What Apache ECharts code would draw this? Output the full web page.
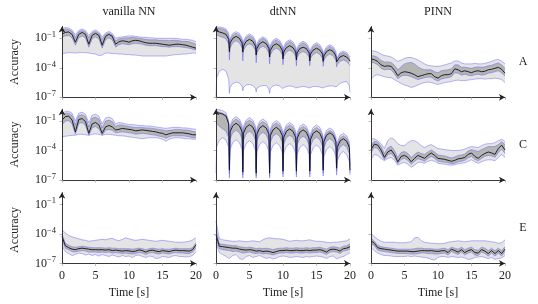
<!DOCTYPE html>
<html><head><meta charset="utf-8">
<script src="https://cdn.jsdelivr.net/npm/echarts@6/dist/echarts.min.js"></script>
<style>html,body{margin:0;padding:0;background:#fff}#c{width:538px;height:304px}</style>
</head><body><div id="c"></div>
<script>
// time grids [s]
const time = [0,0.5,1,1.5,2,2.5,3,3.5,4,4.5,5,5.5,6,6.5,7,7.5,8,8.5,9,9.5,10,10.5,11,11.5,12,12.5,13,13.5,14,14.5,15,15.5,16,16.5,17,17.5,18,18.5,19,19.5,20];
const timeArch = [0,0.1,0.5,1,1.5,1.9, 2,2.1,2.5,3,3.5,3.9, 4,4.1,4.5,5,5.5,5.9, 6,6.1,6.5,7,7.5,7.9, 8,8.1,8.5,9,9.5,9.9, 10,10.1,10.5,11,11.5,11.9, 12,12.1,12.5,13,13.5,13.9, 14,14.1,14.5,15,15.5,15.9, 16,16.1,16.5,17,17.5,17.9, 18,18.1,18.5,19,19.5,19.9, 20];
const xTicks = [0,5,10,15,20];
const yTicks = [1e-7,1e-4,1e-1];
const colTitles = ['vanilla NN','dtNN','PINN'];
const rowLabels = ['A','C','E'];
// all series below are log10(accuracy)
// ---- row A ----
const A_van_hi=[0.0,0.1,0.05,-0.15,-0.65,-0.2,-0.05,-0.2,-0.7,-0.3,-0.15,-0.35,-0.85,-0.45,-0.3,-0.5,-1.0,-0.9,-0.85,-0.8,-0.75,-0.75,-0.8,-0.85,-0.9,-0.9,-0.95,-0.95,-1.0,-1.0,-1.0,-1.0,-1.0,-1.0,-1.0,-1.05,-1.1,-1.1,-1.15,-1.2,-1.35];
const A_van_q3=[-0.15,-0.05,-0.1,-0.3,-0.9,-0.35,-0.2,-0.35,-0.95,-0.45,-0.3,-0.5,-1.1,-0.6,-0.45,-0.65,-1.25,-1.05,-1.0,-0.95,-0.95,-0.9,-0.95,-1.0,-1.05,-1.1,-1.15,-1.15,-1.15,-1.2,-1.2,-1.2,-1.25,-1.2,-1.2,-1.25,-1.3,-1.3,-1.35,-1.45,-1.6];
const A_van_med=[-0.55,-0.4,-0.35,-0.6,-1.4,-0.6,-0.4,-0.6,-1.6,-0.7,-0.5,-0.7,-1.7,-0.8,-0.6,-0.8,-1.6,-1.35,-1.25,-1.3,-1.4,-1.25,-1.2,-1.25,-1.35,-1.45,-1.5,-1.5,-1.5,-1.55,-1.6,-1.65,-1.7,-1.65,-1.6,-1.6,-1.65,-1.7,-1.8,-1.9,-2.0];
const A_van_q1=[-0.9,-0.75,-0.7,-0.95,-1.7,-0.95,-0.75,-0.95,-1.9,-1.05,-0.85,-1.05,-2.0,-1.15,-0.95,-1.15,-1.9,-1.65,-1.55,-1.6,-1.65,-1.55,-1.5,-1.55,-1.6,-1.7,-1.75,-1.75,-1.75,-1.8,-1.85,-1.85,-1.9,-1.85,-1.85,-1.85,-1.9,-1.95,-2.0,-2.1,-2.2];
const A_van_lo=[-2.55,-2.5,-2.45,-2.45,-2.5,-2.45,-2.45,-2.45,-2.5,-2.55,-2.6,-2.75,-2.7,-2.5,-2.5,-2.55,-2.55,-2.6,-2.6,-2.65,-2.65,-2.7,-2.7,-2.75,-2.8,-2.8,-2.8,-2.8,-2.8,-2.8,-2.8,-2.8,-2.75,-2.7,-2.65,-2.65,-2.6,-2.6,-2.55,-2.5,-2.5];

// dtNN panels use timeArch
const A_dt_hi=[0.15,0.15,0.15,0.1,-0.05,-0.5, -1.6,-1.0,-0.5,-0.32,-0.5,-1.0, -1.8,-1.25,-0.75,-0.55,-0.75,-1.25, -2.1,-1.55,-1.05,-0.85,-1.05,-1.55, -2.3,-1.7,-1.2,-1.0,-1.2,-1.7, -2.5,-1.85,-1.35,-1.15,-1.35,-1.85, -2.6,-2.0,-1.5,-1.3,-1.5,-2.0, -2.75,-2.15,-1.65,-1.45,-1.65,-2.15, -2.9,-2.35,-1.85,-1.65,-1.85,-2.35, -3.1,-2.9,-2.45,-2.3,-2.45,-2.8, -2.9];
const A_dt_q3=[0.0,0.0,0.0,-0.05,-0.2,-0.7, -1.9,-1.2,-0.7,-0.47,-0.7,-1.2, -2.1,-1.45,-0.95,-0.7,-0.95,-1.45, -2.4,-1.75,-1.25,-1.0,-1.25,-1.75, -2.6,-1.9,-1.4,-1.15,-1.4,-1.9, -2.8,-2.05,-1.55,-1.3,-1.55,-2.05, -2.9,-2.2,-1.7,-1.45,-1.7,-2.2, -3.05,-2.35,-1.85,-1.6,-1.85,-2.35, -3.2,-2.55,-2.05,-1.8,-2.05,-2.55, -3.35,-3.05,-2.6,-2.45,-2.6,-3.0, -3.15];
const A_dt_med=[-0.15,-0.2,-0.35,-0.45,-0.6,-1.1, -2.35,-1.5,-1.0,-0.8,-1.0,-1.5, -2.4,-1.8,-1.3,-1.1,-1.3,-1.8, -2.7,-2.05,-1.55,-1.35,-1.55,-2.05, -2.9,-2.25,-1.75,-1.55,-1.75,-2.25, -3.1,-2.4,-1.95,-1.75,-1.95,-2.4, -3.2,-2.5,-2.05,-1.9,-2.05,-2.5, -3.3,-2.6,-2.2,-2.0,-2.2,-2.6, -3.35,-2.8,-2.35,-2.15,-2.35,-2.8, -3.4,-3.2,-2.9,-2.75,-2.9,-3.2, -3.35];
const A_dt_q1=[-0.6,-0.65,-0.8,-0.9,-1.05,-1.6, -3.2,-2.0,-1.45,-1.25,-1.45,-2.0, -3.3,-2.25,-1.75,-1.55,-1.75,-2.25, -3.5,-2.5,-2.0,-1.8,-2.0,-2.5, -3.6,-2.7,-2.2,-2.0,-2.2,-2.7, -3.7,-2.85,-2.4,-2.2,-2.4,-2.85, -3.8,-2.95,-2.5,-2.35,-2.5,-2.95, -3.8,-3.05,-2.65,-2.45,-2.65,-3.05, -3.85,-3.25,-2.8,-2.6,-2.8,-3.25, -3.9,-3.65,-3.35,-3.2,-3.35,-3.65, -3.8];
const A_dt_lo=[-7.0,-5.0,-4.35,-4.15,-4.35,-5.2, -6.6,-6.0,-5.6,-5.45,-5.55,-5.9, -6.35,-6.0,-5.75,-5.7,-5.8,-6.1, -6.45,-6.1,-5.9,-5.8,-5.8,-6.2, -6.6,-6.1,-5.85,-5.75,-5.85,-6.1, -6.2,-6.0,-5.9,-5.85,-5.9,-6.05, -6.2,-6.05,-5.95,-5.9,-5.95,-6.05, -6.15,-6.0,-5.9,-5.9,-5.95,-6.05, -6.2,-6.0,-5.9,-5.85,-5.85,-5.95, -6.05,-5.85,-5.6,-5.45,-5.4,-5.8, -6.5];

const A_pinn_hi=[-2.25,-2.3,-2.4,-2.6,-2.75,-2.8,-2.9,-3.1,-3.35,-3.2,-3.05,-2.95,-2.95,-3.05,-3.2,-3.4,-3.6,-3.75,-3.8,-3.85,-3.85,-3.8,-3.7,-3.6,-3.5,-3.3,-3.3,-3.5,-3.6,-3.6,-3.6,-3.55,-3.6,-3.6,-3.55,-3.45,-3.35,-3.2,-3.15,-3.3,-3.6];
const A_pinn_q3=[-2.75,-2.8,-2.95,-3.25,-3.4,-3.4,-3.45,-3.75,-4.2,-3.9,-3.6,-3.5,-3.45,-3.6,-3.9,-4.1,-4.2,-4.2,-4.2,-4.4,-4.5,-4.3,-4.25,-4.2,-4.1,-3.7,-3.7,-3.95,-3.95,-4.0,-4.05,-3.95,-3.9,-3.95,-3.9,-3.8,-3.75,-3.6,-3.5,-3.7,-4.05];
const A_pinn_med=[-3.1,-3.17,-3.35,-3.7,-3.85,-3.8,-3.85,-4.25,-4.8,-4.5,-4.4,-4.45,-4.55,-4.7,-4.9,-4.8,-4.7,-4.6,-4.6,-4.9,-5.05,-4.8,-4.7,-4.7,-4.6,-4.1,-4.2,-4.4,-4.3,-4.4,-4.5,-4.35,-4.3,-4.4,-4.35,-4.2,-4.15,-4.05,-3.95,-4.15,-4.55];
const A_pinn_q1=[-3.45,-3.5,-3.7,-4.05,-4.2,-4.15,-4.2,-4.6,-5.1,-4.85,-4.75,-4.8,-4.9,-5.05,-5.2,-5.1,-5.0,-4.95,-4.95,-5.2,-5.35,-5.15,-5.05,-5.0,-4.9,-4.5,-4.55,-4.75,-4.65,-4.75,-4.8,-4.7,-4.65,-4.75,-4.7,-4.55,-4.5,-4.4,-4.3,-4.5,-4.85];
const A_pinn_lo=[-5.2,-4.8,-4.7,-4.8,-4.9,-5.0,-5.0,-5.2,-5.4,-5.6,-5.75,-5.85,-6.0,-5.9,-5.75,-5.6,-5.5,-5.45,-5.5,-5.6,-5.7,-5.6,-5.5,-5.45,-5.4,-5.3,-5.25,-5.3,-5.3,-5.25,-5.2,-5.15,-5.1,-5.1,-5.15,-5.1,-5.1,-5.05,-5.1,-5.2,-5.5];
// ---- row C ----
const C_van_hi=[-0.3,0.0,0.0,-0.2,-1.0,-0.2,-0.1,-0.3,-1.2,-0.4,-0.3,-0.5,-1.3,-0.7,-0.6,-0.75,-1.3,-1.15,-1.2,-1.3,-1.35,-1.35,-1.4,-1.45,-1.45,-1.5,-1.5,-1.55,-1.6,-1.65,-1.7,-1.75,-1.7,-1.65,-1.65,-1.65,-1.7,-1.7,-1.75,-1.8,-1.85];
const C_van_q3=[-0.5,-0.2,-0.2,-0.45,-1.4,-0.45,-0.35,-0.55,-1.6,-0.7,-0.6,-0.8,-1.7,-1.0,-0.9,-1.05,-1.55,-1.4,-1.4,-1.5,-1.55,-1.6,-1.65,-1.65,-1.65,-1.7,-1.7,-1.75,-1.8,-1.85,-1.9,-2.0,-1.95,-1.9,-1.85,-1.85,-1.9,-1.9,-1.95,-2.05,-2.1];
const C_van_med=[-0.9,-0.55,-0.5,-0.9,-2.1,-0.85,-0.75,-1.05,-2.25,-1.3,-1.15,-1.4,-2.25,-1.6,-1.45,-1.6,-1.9,-1.85,-1.75,-1.8,-1.85,-1.9,-2.0,-1.95,-1.9,-1.95,-2.0,-2.05,-2.1,-2.2,-2.25,-2.4,-2.3,-2.2,-2.2,-2.2,-2.2,-2.25,-2.3,-2.4,-2.4];
const C_van_q1=[-1.4,-1.0,-0.95,-1.3,-2.35,-1.25,-1.15,-1.45,-2.45,-1.7,-1.55,-1.8,-2.45,-1.95,-1.85,-1.95,-2.2,-2.15,-2.1,-2.15,-2.2,-2.25,-2.35,-2.3,-2.25,-2.3,-2.35,-2.4,-2.45,-2.55,-2.6,-2.75,-2.6,-2.5,-2.5,-2.5,-2.5,-2.55,-2.6,-2.7,-2.7];
const C_van_lo=[-2.6,-2.55,-2.5,-2.45,-2.45,-2.35,-2.35,-2.4,-2.45,-2.35,-2.3,-2.35,-2.45,-2.35,-2.35,-2.4,-2.45,-2.5,-2.5,-2.55,-2.6,-2.65,-2.7,-2.75,-2.8,-2.75,-2.7,-2.7,-2.7,-2.75,-2.85,-3.05,-2.85,-2.75,-2.7,-2.7,-2.75,-2.8,-2.8,-2.85,-2.85];

const C_dt_hi=[0.2,0.2,0.15,0.05,-0.15,-1.0, -5.5,-1.45,-0.8,-0.56,-0.8,-1.45, -5.7,-1.55,-0.9,-0.65,-0.9,-1.55, -5.8,-1.7,-1.05,-0.8,-1.05,-1.7, -5.8,-1.85,-1.2,-0.97,-1.2,-1.85, -5.6,-2.05,-1.4,-1.15,-1.4,-2.05, -5.6,-2.2,-1.55,-1.3,-1.55,-2.2, -5.6,-2.3,-1.65,-1.4,-1.65,-2.3, -5.5,-2.6,-1.95,-1.7,-1.95,-2.6, -5.3,-3.15,-2.5,-2.25,-2.5,-3.15, -5.5];
const C_dt_q3=[0.0,0.0,-0.1,-0.2,-0.4,-1.25, -5.7,-1.7,-1.05,-0.8,-1.05,-1.7, -5.9,-1.8,-1.15,-0.9,-1.15,-1.8, -6.0,-1.95,-1.3,-1.05,-1.3,-1.95, -6.0,-2.1,-1.45,-1.2,-1.45,-2.1, -5.8,-2.3,-1.65,-1.4,-1.65,-2.3, -5.8,-2.45,-1.8,-1.55,-1.8,-2.45, -5.8,-2.55,-1.9,-1.65,-1.9,-2.55, -5.7,-2.85,-2.2,-1.95,-2.2,-2.85, -5.5,-3.4,-2.75,-2.5,-2.75,-3.4, -5.7];
const C_dt_med=[-0.15,-0.15,-0.2,-0.3,-0.5,-1.3, -6.0,-2.1,-1.48,-1.23,-1.48,-2.1, -6.2,-2.25,-1.62,-1.37,-1.62,-2.25, -6.3,-2.35,-1.72,-1.47,-1.72,-2.35, -6.3,-2.5,-1.9,-1.64,-1.9,-2.5, -6.1,-2.7,-2.05,-1.8,-2.05,-2.7, -6.1,-2.8,-2.15,-1.9,-2.15,-2.8, -6.1,-2.9,-2.25,-2.0,-2.25,-2.9, -6.0,-3.1,-2.45,-2.2,-2.45,-3.1, -5.8,-3.7,-3.05,-2.8,-3.05,-3.7, -6.0];
const C_dt_q1=[-1.2,-1.3,-1.55,-1.8,-2.05,-2.7, -6.4,-2.85,-2.2,-1.95,-2.2,-2.85, -6.5,-2.95,-2.3,-2.05,-2.3,-2.95, -6.6,-3.05,-2.4,-2.15,-2.4,-3.05, -6.6,-3.2,-2.55,-2.3,-2.55,-3.2, -6.4,-3.35,-2.7,-2.45,-2.7,-3.35, -6.4,-3.45,-2.8,-2.55,-2.8,-3.45, -6.4,-3.55,-2.9,-2.65,-2.9,-3.55, -6.3,-3.7,-3.05,-2.8,-3.05,-3.7, -6.1,-4.3,-3.65,-3.4,-3.65,-4.3, -6.3];
const C_dt_lo=[-6.3,-3.6,-2.95,-2.7,-2.95,-3.7, -6.8,-3.9,-3.2,-2.9,-3.2,-3.9, -6.8,-4.0,-3.3,-3.0,-3.3,-4.0, -6.8,-4.1,-3.4,-3.1,-3.4,-4.1, -6.8,-4.2,-3.5,-3.2,-3.5,-4.2, -6.7,-4.3,-3.6,-3.3,-3.6,-4.3, -6.7,-4.4,-3.7,-3.4,-3.7,-4.4, -6.7,-4.45,-3.75,-3.45,-3.75,-4.45, -6.6,-4.6,-3.9,-3.6,-3.9,-4.6, -6.5,-5.1,-4.4,-4.1,-4.4,-5.1, -6.5];

const C_pinn_hi=[-2.8,-2.8,-3.0,-3.3,-3.8,-3.0,-2.7,-2.9,-3.3,-3.5,-3.5,-3.2,-3.0,-3.0,-3.2,-3.5,-3.7,-3.5,-3.4,-3.6,-3.8,-3.85,-3.9,-3.95,-4.0,-4.0,-4.0,-3.95,-3.85,-3.7,-3.6,-3.65,-3.7,-3.5,-3.35,-3.3,-3.3,-3.2,-3.0,-2.85,-3.1];
const C_pinn_q3=[-3.5,-3.05,-3.15,-3.6,-4.3,-3.75,-3.55,-4.0,-4.7,-4.2,-4.1,-4.3,-4.7,-4.4,-4.15,-4.3,-4.4,-4.15,-3.95,-4.15,-4.45,-4.5,-4.55,-4.65,-4.75,-4.65,-4.5,-4.45,-4.35,-4.05,-3.9,-4.0,-4.1,-3.9,-3.75,-3.6,-3.6,-3.6,-3.4,-3.1,-3.4];
const C_pinn_med=[-3.9,-3.35,-3.45,-3.95,-4.7,-4.15,-3.95,-4.4,-5.15,-4.6,-4.5,-4.7,-5.15,-4.8,-4.5,-4.65,-4.8,-4.5,-4.25,-4.5,-4.8,-4.85,-4.9,-5.0,-5.1,-5.0,-4.85,-4.8,-4.7,-4.4,-4.25,-4.6,-4.8,-4.5,-4.3,-4.15,-4.25,-4.4,-3.8,-3.45,-3.95];
const C_pinn_q1=[-4.2,-3.7,-3.8,-4.3,-4.95,-4.45,-4.3,-4.7,-5.35,-4.9,-4.8,-5.0,-5.4,-5.1,-4.85,-4.95,-5.1,-4.8,-4.6,-4.8,-5.1,-5.15,-5.2,-5.25,-5.35,-5.3,-5.15,-5.1,-5.0,-4.75,-4.6,-4.9,-5.05,-4.8,-4.6,-4.5,-4.55,-4.7,-4.2,-3.85,-4.3];
const C_pinn_lo=[-4.9,-4.4,-4.5,-4.8,-5.05,-4.8,-4.7,-5.0,-5.5,-5.3,-5.2,-5.4,-5.7,-5.5,-5.2,-5.2,-5.3,-5.1,-5.0,-5.1,-5.3,-5.35,-5.4,-5.45,-5.5,-5.45,-5.35,-5.3,-5.25,-5.1,-4.95,-5.15,-5.3,-5.15,-5.0,-4.95,-4.95,-5.05,-4.7,-4.4,-4.7];
// ---- row E ----
const E_van_hi=[-3.6,-3.9,-4.15,-4.3,-4.4,-4.5,-4.6,-4.65,-4.75,-4.7,-4.65,-4.6,-4.55,-4.6,-4.5,-4.45,-4.6,-4.7,-4.55,-4.4,-4.5,-4.6,-4.65,-4.6,-4.55,-4.6,-4.65,-4.7,-4.75,-4.7,-4.65,-4.7,-4.75,-4.8,-4.85,-4.85,-4.85,-4.8,-4.75,-4.6,-4.4];
const E_van_q3=[-4.0,-4.95,-5.15,-5.3,-5.35,-5.3,-5.25,-5.3,-5.35,-5.4,-5.4,-5.4,-5.4,-5.45,-5.4,-5.45,-5.45,-5.5,-5.5,-5.5,-5.5,-5.55,-5.5,-5.45,-5.5,-5.6,-5.5,-5.45,-5.5,-5.55,-5.5,-5.55,-5.55,-5.5,-5.45,-5.5,-5.5,-5.5,-5.5,-5.4,-4.9];
const E_van_med=[-4.25,-5.2,-5.4,-5.55,-5.6,-5.5,-5.45,-5.5,-5.55,-5.6,-5.6,-5.62,-5.6,-5.65,-5.6,-5.7,-5.65,-5.7,-5.75,-5.7,-5.72,-5.8,-5.75,-5.62,-5.7,-5.85,-5.7,-5.65,-5.75,-5.8,-5.7,-5.75,-5.8,-5.7,-5.65,-5.7,-5.7,-5.72,-5.75,-5.6,-5.1];
const E_van_q1=[-4.6,-5.45,-5.6,-5.8,-5.85,-5.75,-5.7,-5.75,-5.85,-5.85,-5.85,-5.9,-5.85,-5.9,-5.85,-5.95,-5.9,-5.95,-6.0,-5.95,-6.0,-6.05,-6.0,-5.9,-5.95,-6.1,-5.95,-5.9,-6.0,-6.05,-5.95,-6.0,-6.05,-5.95,-5.9,-5.95,-5.95,-6.0,-6.0,-5.85,-5.4];
const E_van_lo=[-5.2,-5.8,-6.0,-6.2,-6.1,-5.95,-6.0,-6.15,-6.05,-6.2,-6.1,-6.25,-6.1,-6.2,-6.3,-6.15,-6.25,-6.35,-6.2,-6.3,-6.25,-6.4,-6.2,-6.15,-6.3,-6.4,-6.25,-6.3,-6.5,-6.45,-6.3,-6.35,-6.4,-6.25,-6.2,-6.3,-6.3,-6.35,-6.3,-6.2,-5.8];

const E_dt_hi=[-2.7,-4.5,-4.6,-4.65,-4.7,-4.75,-4.75,-4.7,-4.75,-4.8,-4.75,-4.7,-4.75,-4.8,-4.6,-4.45,-4.4,-4.45,-4.5,-4.5,-4.55,-4.65,-4.75,-4.7,-4.65,-4.7,-4.7,-4.65,-4.6,-4.7,-4.75,-4.75,-4.8,-4.85,-4.9,-4.85,-4.85,-4.8,-4.75,-4.7,-4.5];
const E_dt_q3=[-3.6,-5.0,-5.05,-5.1,-5.15,-5.2,-5.2,-5.3,-5.35,-5.4,-5.35,-5.4,-5.5,-5.45,-5.5,-5.45,-5.5,-5.6,-5.5,-5.45,-5.45,-5.4,-5.45,-5.45,-5.4,-5.45,-5.45,-5.4,-5.45,-5.4,-5.4,-5.35,-5.45,-5.55,-5.35,-5.3,-5.35,-5.45,-5.25,-5.2,-5.0];
const E_dt_med=[-4.1,-5.25,-5.3,-5.35,-5.4,-5.45,-5.45,-5.55,-5.6,-5.65,-5.6,-5.65,-5.75,-5.7,-5.8,-5.75,-5.8,-5.9,-5.8,-5.7,-5.7,-5.65,-5.7,-5.7,-5.65,-5.7,-5.7,-5.65,-5.7,-5.65,-5.65,-5.6,-5.7,-5.85,-5.6,-5.55,-5.6,-5.75,-5.5,-5.45,-5.3];
const E_dt_q1=[-4.5,-5.5,-5.6,-5.65,-5.7,-5.8,-5.75,-5.85,-5.95,-5.9,-5.85,-5.95,-6.0,-5.95,-6.05,-6.0,-6.05,-6.15,-6.05,-5.95,-5.95,-5.9,-5.95,-5.95,-5.9,-5.95,-5.95,-5.9,-5.95,-5.9,-5.9,-5.85,-5.95,-6.1,-5.85,-5.8,-5.85,-6.0,-5.75,-5.7,-5.55];
const E_dt_lo=[-4.9,-5.9,-6.1,-6.3,-6.5,-6.2,-6.1,-6.5,-6.6,-6.3,-6.2,-6.4,-6.3,-6.2,-6.35,-6.5,-6.4,-6.55,-6.45,-6.3,-6.25,-6.3,-6.4,-6.35,-6.3,-6.35,-6.4,-6.3,-6.35,-6.3,-6.25,-6.3,-6.35,-6.5,-6.3,-6.25,-6.55,-6.4,-6.3,-6.1,-5.9];

const E_pinn_hi=[-3.9,-4.3,-4.55,-4.75,-4.85,-4.85,-4.85,-4.85,-4.9,-4.9,-4.9,-4.85,-4.8,-4.4,-4.35,-4.7,-4.85,-4.9,-4.95,-4.95,-5.0,-5.0,-4.95,-4.85,-4.8,-4.75,-4.7,-4.75,-4.8,-4.75,-4.7,-4.7,-4.7,-4.7,-4.7,-4.75,-4.8,-4.85,-4.95,-4.9,-4.6];
const E_pinn_q3=[-4.4,-4.75,-5.15,-5.3,-5.35,-5.4,-5.45,-5.5,-5.55,-5.55,-5.55,-5.55,-5.55,-5.5,-5.45,-5.45,-5.5,-5.5,-5.5,-5.55,-5.55,-5.5,-5.45,-5.6,-5.35,-5.45,-5.55,-5.35,-5.6,-5.45,-5.35,-5.6,-5.65,-5.35,-5.45,-5.7,-5.45,-5.7,-5.45,-5.7,-5.3];
const E_pinn_med=[-4.7,-4.95,-5.4,-5.5,-5.55,-5.6,-5.65,-5.7,-5.75,-5.75,-5.75,-5.75,-5.8,-5.8,-5.75,-5.7,-5.7,-5.72,-5.7,-5.75,-5.78,-5.72,-5.7,-5.9,-5.55,-5.7,-5.85,-5.6,-5.9,-5.7,-5.6,-5.9,-5.95,-5.6,-5.75,-6.0,-5.7,-6.0,-5.7,-6.0,-5.55];
const E_pinn_q1=[-5.0,-5.2,-5.65,-5.75,-5.8,-5.85,-5.9,-5.95,-6.0,-6.0,-6.0,-6.0,-6.05,-6.05,-6.0,-5.95,-5.95,-6.0,-6.0,-6.05,-6.05,-6.0,-5.95,-6.15,-5.8,-5.95,-6.1,-5.85,-6.15,-5.95,-5.85,-6.15,-6.2,-5.85,-6.0,-6.25,-5.95,-6.25,-5.95,-6.25,-5.8];
const E_pinn_lo=[-5.4,-5.7,-5.95,-6.1,-6.2,-6.2,-6.25,-6.3,-6.3,-6.3,-6.3,-6.25,-6.3,-6.25,-6.3,-6.35,-6.4,-6.45,-6.6,-6.65,-6.4,-6.3,-6.3,-6.4,-6.3,-6.35,-6.4,-6.35,-6.45,-6.6,-6.55,-6.4,-6.35,-6.3,-6.4,-6.5,-6.4,-6.6,-6.5,-6.45,-6.2];

const panels = [
  {row:0,col:0,t:time,hi:A_van_hi,q3:A_van_q3,med:A_van_med,q1:A_van_q1,lo:A_van_lo},
  {row:0,col:1,t:timeArch,hi:A_dt_hi,q3:A_dt_q3,med:A_dt_med,q1:A_dt_q1,lo:A_dt_lo},
  {row:0,col:2,t:time,hi:A_pinn_hi,q3:A_pinn_q3,med:A_pinn_med,q1:A_pinn_q1,lo:A_pinn_lo},
  {row:1,col:0,t:time,hi:C_van_hi,q3:C_van_q3,med:C_van_med,q1:C_van_q1,lo:C_van_lo},
  {row:1,col:1,t:timeArch,hi:C_dt_hi,q3:C_dt_q3,med:C_dt_med,q1:C_dt_q1,lo:C_dt_lo},
  {row:1,col:2,t:time,hi:C_pinn_hi,q3:C_pinn_q3,med:C_pinn_med,q1:C_pinn_q1,lo:C_pinn_lo},
  {row:2,col:0,t:time,hi:E_van_hi,q3:E_van_q3,med:E_van_med,q1:E_van_q1,lo:E_van_lo},
  {row:2,col:1,t:time,hi:E_dt_hi,q3:E_dt_q3,med:E_dt_med,q1:E_dt_q1,lo:E_dt_lo},
  {row:2,col:2,t:time,hi:E_pinn_hi,q3:E_pinn_q3,med:E_pinn_med,q1:E_pinn_q1,lo:E_pinn_lo}
];

const FONT = '"Liberation Serif","DejaVu Serif",serif';
const colLeft = [62, 216, 371];
const gridW = 134;
const rowTop = [26.5, 109.2, 192.6];
const gridH = 70.8;
const BLUE = 'rgba(85,85,255,0.55)';
const LIGHT = '#e4e4e4';
const DARK = '#b5b5b5';

const toPts = (t, arr) => t.map((x, i) => [x, Math.pow(10, arr[i])]);

const grids = [], xAxes = [], yAxes = [], series = [];
panels.forEach((p, i) => {
  grids.push({left: colLeft[p.col], top: rowTop[p.row], width: gridW, height: gridH});
  xAxes.push({
    type: 'value', gridIndex: i, min: 0, max: 20, interval: 5, z: 5,
    axisLine: {show: true, onZero: false, lineStyle: {color: '#222', width: 0.9}, symbol: ['none', 'arrow'], symbolSize: [5, 6]},
    axisTick: {show: true, length: 2.5, lineStyle: {color: '#aaa', width: 0.8}},
    axisLabel: {show: p.row === 2, fontFamily: FONT, fontSize: 12, color: '#222', margin: 6},
    splitLine: {show: false}
  });
  yAxes.push({
    type: 'log', logBase: 10, gridIndex: i, min: 1e-7, max: 1.6, z: 5,
    axisLine: {show: true, onZero: false, lineStyle: {color: '#222', width: 0.9}, symbol: ['none', 'arrow'], symbolSize: [5, 6]},
    axisTick: {show: true, length: 2.5, customValues: yTicks, lineStyle: {color: '#aaa', width: 0.8}},
    axisLabel: {
      show: p.col === 0, customValues: yTicks, margin: 6,
      formatter: v => '{b|10}{s|−' + Math.abs(Math.round(Math.log10(v))) + '}',
      rich: {
        b: {fontFamily: FONT, fontSize: 12, color: '#222', lineHeight: 16},
        s: {fontFamily: FONT, fontSize: 8.5, color: '#222', verticalAlign: 'top', lineHeight: 9}
      }
    },
    splitLine: {show: false}
  });
  const band = (arr, fill) => ({
    type: 'line', xAxisIndex: i, yAxisIndex: i, data: toPts(p.t, arr), symbol: 'none', silent: true,
    lineStyle: {color: BLUE, width: 0.8}, areaStyle: {color: fill, opacity: 1, origin: 'start'}
  });
  series.push(band(p.hi, LIGHT), band(p.q3, DARK), band(p.q1, LIGHT), band(p.lo, '#ffffff'));
  series.push({type: 'line', xAxisIndex: i, yAxisIndex: i, data: toPts(p.t, p.med), symbol: 'none', silent: true,
    lineStyle: {color: '#111', width: 0.9}});
});

const graphic = [];
const TF = '12px ' + FONT;
colTitles.forEach((t, c) => graphic.push({type: 'text', x: colLeft[c] + gridW / 2, y: 12,
  style: {text: t, font: TF, fill: '#222', textAlign: 'center', textVerticalAlign: 'middle'}}));
colTitles.forEach((t, c) => graphic.push({type: 'text', x: colLeft[c] + gridW / 2, y: 293,
  style: {text: 'Time [s]', font: TF, fill: '#222', textAlign: 'center', textVerticalAlign: 'middle'}}));
rowLabels.forEach((t, r) => {
  const cy = rowTop[r] + gridH / 2;
  graphic.push({type: 'text', x: 523, y: cy, style: {text: t, font: TF, fill: '#222', textAlign: 'center', textVerticalAlign: 'middle'}});
  graphic.push({type: 'text', x: 15, y: cy + (r === 2 ? 2 : 0), rotation: Math.PI / 2,
    style: {text: 'Accuracy', font: TF, fill: '#222', textAlign: 'center', textVerticalAlign: 'middle'}});
});

const chart = echarts.init(document.getElementById('c'), null, {renderer: 'canvas'});
chart.setOption({animation: false, backgroundColor: '#fff', grid: grids, xAxis: xAxes, yAxis: yAxes, series, graphic});
</script></body></html>
